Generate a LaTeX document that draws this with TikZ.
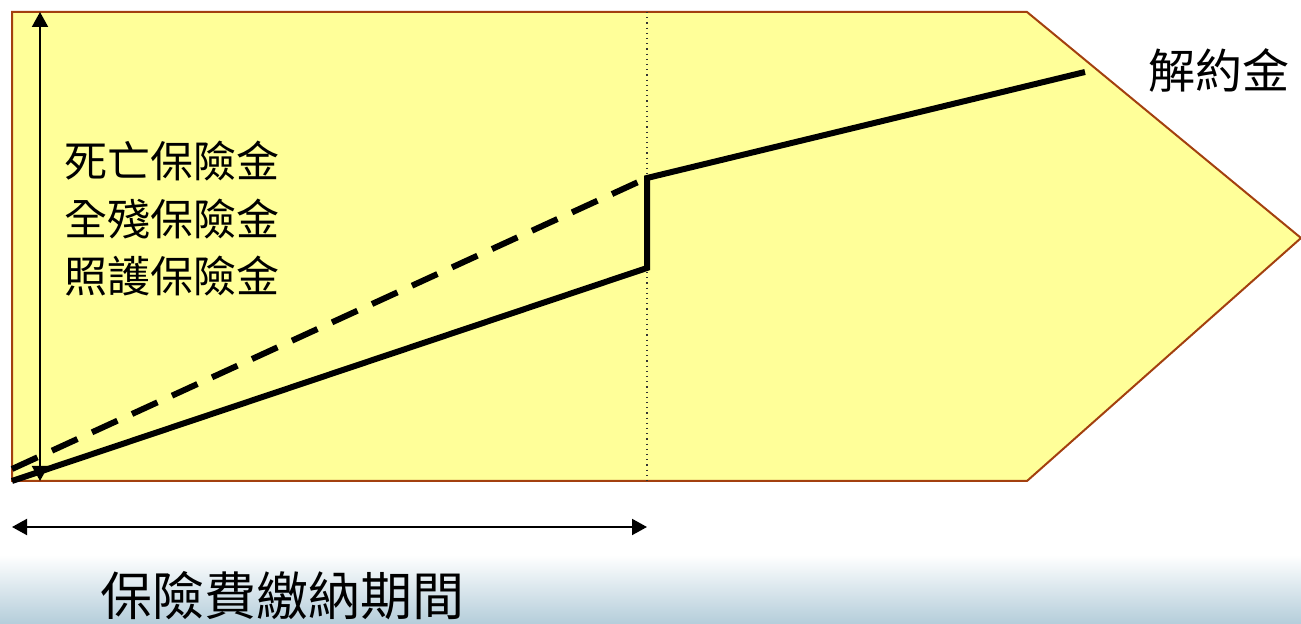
\documentclass[tikz,border=0pt]{standalone}
\usepackage{fontspec}
\newfontfamily\cjk{Noto Sans CJK TC}
\usetikzlibrary{arrows.meta}
\definecolor{panelfill}{HTML}{FFFF99}
\definecolor{panelline}{HTML}{A3400F}
\definecolor{bandblue}{HTML}{B4CDDA}
\tikzset{
  thickline/.style={line width=3pt, line join=miter},
  dimarrow/.style={line width=1pt, {Triangle[length=7.5pt,width=8pt]}-{Triangle[length=7.5pt,width=8pt]}},
  lbl/.style={inner sep=0pt, font=\cjk\fontsize{21.5}{26}\selectfont},
}
\begin{document}
\begin{tikzpicture}[x=0.5pt,y=-0.5pt]
\useasboundingbox (0,0) rectangle (1301,624);
% bottom band
\shade[top color=white, bottom color=bandblue, draw=none] (0,555) rectangle (1301,624);
% pentagon panel
\draw[fill=panelfill, draw=panelline, line width=1pt] (12,12) -- (1027,12) -- (1301,238) -- (1027,481) -- (12,481) -- cycle;
% named points
\coordinate (o) at (12,481);
\coordinate (od) at (12,469);
\coordinate (ltop) at (40,12);
\coordinate (lbot) at (40,481);
\coordinate (dtop) at (647,12);
\coordinate (dbot) at (647,481);
\coordinate (p1) at (647,268);
\coordinate (p2) at (647,178);
\coordinate (p3) at (1085,72);
\coordinate (hl) at (12,527);
\coordinate (hr) at (647,527);
% dotted divider
\draw[line width=0.6pt, dotted, black!80] (dtop) -- (dbot);
% vertical arrow
\draw[dimarrow] (lbot) -- (ltop);
% dashed line
\draw[thickline, dash pattern=on 14pt off 8pt] (od) -- (p2);
% solid line
\draw[thickline] (o) -- (p1) -- (p2) -- (p3);
% horizontal arrow
\draw[dimarrow] (hl) -- (hr);
% labels
\node[lbl, anchor=west] (t1) at (64,161) {死亡保險金};
\node[lbl, anchor=west] (t2) at (64,219) {全殘保險金};
\node[lbl, anchor=west] (t3) at (64,276) {照護保險金};
\node[inner sep=0pt, anchor=west, font=\cjk\fontsize{23.5}{28}\selectfont] (t4) at (1148,70) {解約金};
\node[inner sep=0pt, anchor=west, font=\cjk\fontsize{26}{30}\selectfont] (t5) at (100,596) {保險費繳納期間};
\end{tikzpicture}
\end{document}
